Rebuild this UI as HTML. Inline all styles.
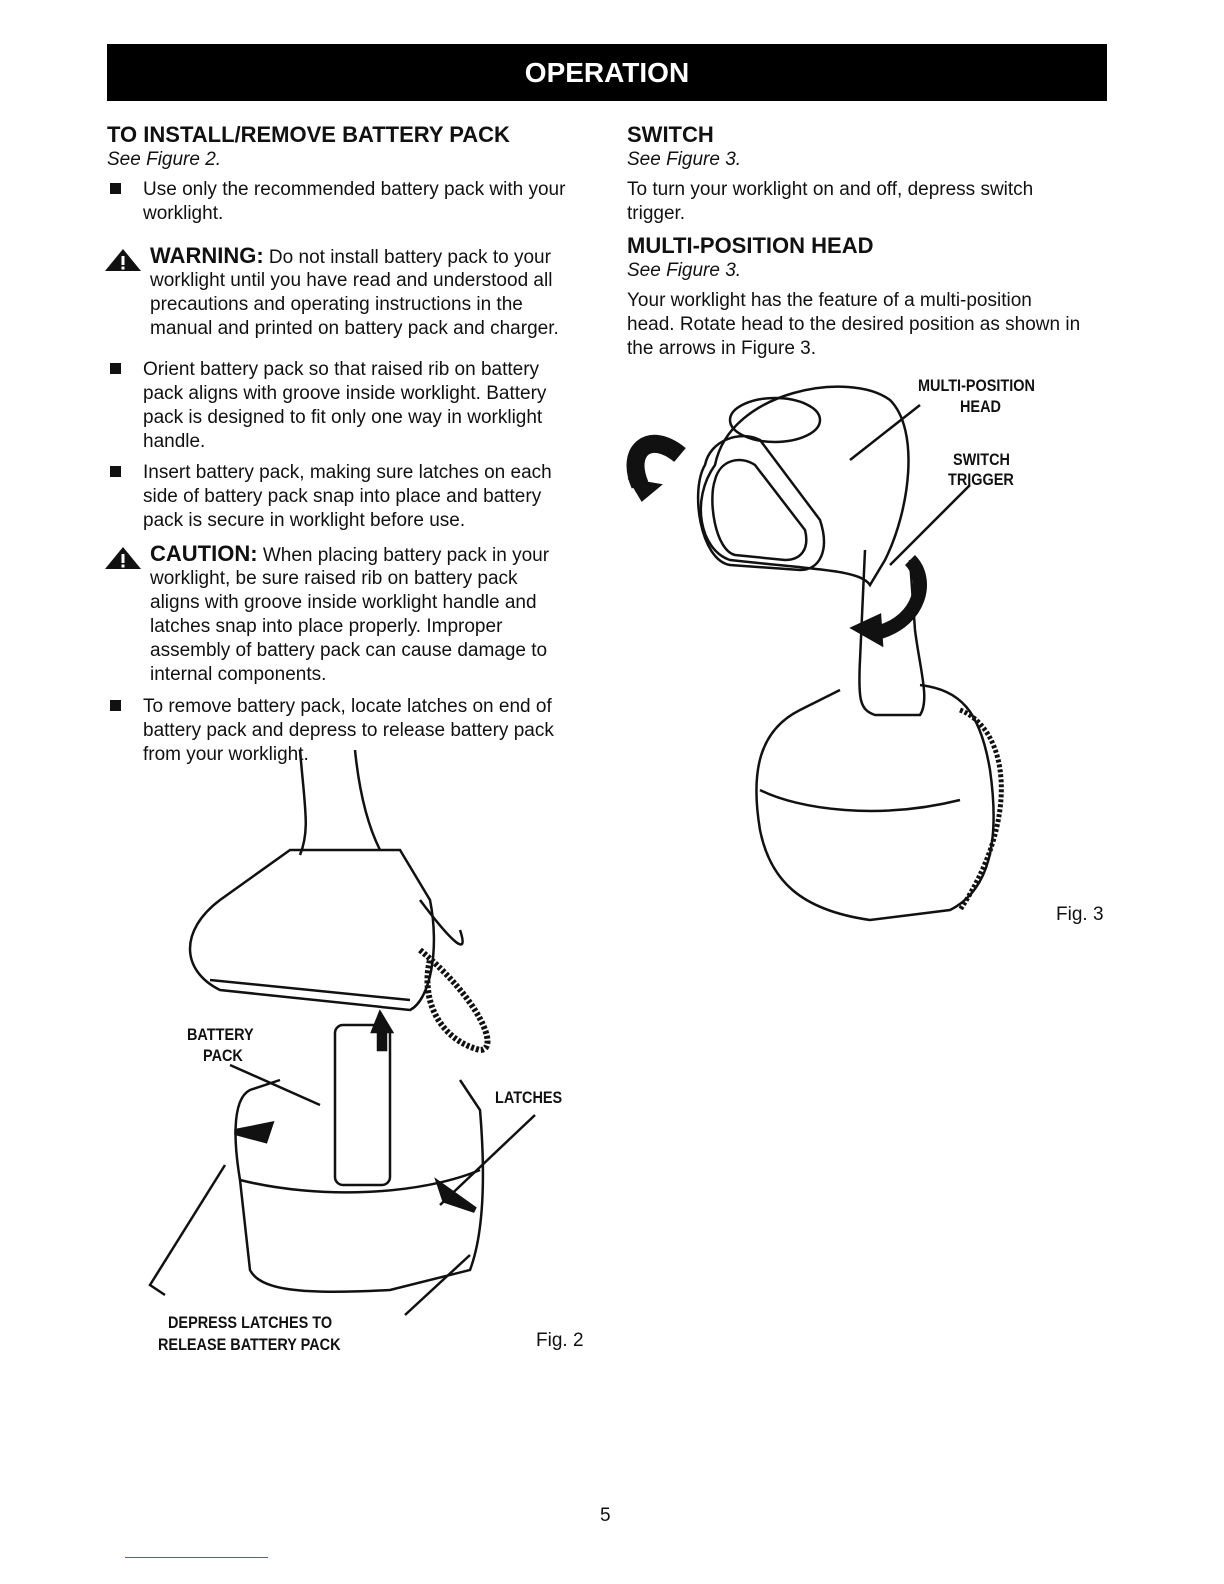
<!DOCTYPE html>
<html><head><meta charset="utf-8"><style>
body{margin:0;background:#fff;}
#p{position:relative;width:1224px;height:1584px;font-family:"Liberation Sans",sans-serif;color:#111;overflow:hidden}
.t{position:absolute;font-size:19px;white-space:nowrap;line-height:24px}
.h{position:absolute;font-size:22px;font-weight:bold;white-space:nowrap}
.i{font-style:italic}
.b{position:absolute;width:11px;height:11px;background:#111}
.l{position:absolute;font-size:17px;font-weight:bold;white-space:nowrap;transform:scaleX(.85);transform-origin:left}
</style></head><body><div id="p">
<div style="position:absolute;left:107px;top:44px;width:1000px;height:57px;background:#000;color:#fff;font-weight:bold;font-size:28px;text-align:center;line-height:57px">OPERATION</div>

<div class="h" style="left:107px;top:122px">TO INSTALL/REMOVE BATTERY PACK</div>
<div class="t i" style="left:107px;top:148px">See Figure 2.</div>
<div class="b" style="left:110px;top:183px"></div>
<div class="t" style="left:143px;top:178px">Use only the recommended battery pack with your<br>worklight.</div>
<svg style="position:absolute;left:103px;top:247px" width="42" height="26"><polygon points="20,2 38,24 2,24" fill="#111"/><rect x="18.5" y="9" width="3" height="9" fill="#fff"/><rect x="18.5" y="19.5" width="3" height="3" fill="#fff"/></svg>
<div class="t" style="left:150px;top:244px"><b style="font-size:22px">WARNING:</b> Do not install battery pack to your</div>
<div class="t" style="left:150px;top:269px">worklight until you have read and understood all<br>precautions and operating instructions in the<br>manual and printed on battery pack and charger.</div>
<div class="b" style="left:110px;top:363px"></div>
<div class="t" style="left:143px;top:358px">Orient battery pack so that raised rib on battery<br>pack aligns with groove inside worklight. Battery<br>pack is designed to fit only one way in worklight<br>handle.</div>
<div class="b" style="left:110px;top:466px"></div>
<div class="t" style="left:143px;top:461px">Insert battery pack, making sure latches on each<br>side of battery pack snap into place and battery<br>pack is secure in worklight before use.</div>
<svg style="position:absolute;left:103px;top:545px" width="42" height="26"><polygon points="20,2 38,24 2,24" fill="#111"/><rect x="18.5" y="9" width="3" height="9" fill="#fff"/><rect x="18.5" y="19.5" width="3" height="3" fill="#fff"/></svg>
<div class="t" style="left:150px;top:542px"><b style="font-size:22px">CAUTION:</b> When placing battery pack in your</div>
<div class="t" style="left:150px;top:567px">worklight, be sure raised rib on battery pack<br>aligns with groove inside worklight handle and<br>latches snap into place properly. Improper<br>assembly of battery pack can cause damage to<br>internal components.</div>
<div class="b" style="left:110px;top:700px"></div>
<div class="t" style="left:143px;top:695px">To remove battery pack, locate latches on end of<br>battery pack and depress to release battery pack<br>from your worklight.</div>

<div class="h" style="left:627px;top:122px">SWITCH</div>
<div class="t i" style="left:627px;top:148px">See Figure 3.</div>
<div class="t" style="left:627px;top:178px">To turn your worklight on and off, depress switch<br>trigger.</div>
<div class="h" style="left:627px;top:233px">MULTI-POSITION HEAD</div>
<div class="t i" style="left:627px;top:259px">See Figure 3.</div>
<div class="t" style="left:627px;top:289px">Your worklight has the feature of a multi-position<br>head. Rotate head to the desired position as shown in<br>the arrows in Figure 3.</div>

<svg style="position:absolute;left:620px;top:370px" width="420" height="560" fill="none" stroke="#111" stroke-width="2.5">
<path d="M95,95 C110,20 230,0 270,30 C300,60 290,140 265,190 L250,215 C240,200 200,200 110,190 C80,180 70,130 95,95Z"/>
<path d="M85,95 C90,70 120,60 140,70 L200,150 C210,180 200,200 180,200 L110,195 C80,190 70,120 85,95Z"/>
<path d="M95,110 C100,90 120,85 135,95 L185,160 C190,180 180,190 165,190 L115,185 C95,180 88,130 95,110Z"/>
<ellipse cx="155" cy="50" rx="45" ry="22"/>
<path d="M245,180 L240,290 C238,330 240,340 255,345 L300,345 C310,330 300,300 295,260 L290,190"/>
<path d="M220,320 L180,340 C140,360 130,400 140,460 C150,510 180,540 250,550 L330,540 C370,520 380,470 370,400 C360,340 340,320 300,315"/>
<path d="M140,420 C180,440 260,450 340,430"/>
<path d="M340,340 C390,360 400,450 340,540" stroke-width="5" stroke-dasharray="3 2"/>
<path d="M60,85 C30,60 5,80 20,115" stroke-width="18"/>
<polygon points="10,110 40,115 22,130" fill="#111"/>
<path d="M290,190 C310,210 300,250 260,262" stroke-width="14"/>
<polygon points="232,258 260,245 262,275" fill="#111"/>
<path d="M300,35 L230,90"/>
<path d="M350,115 L270,195"/>
</svg>
<div class="l" style="left:918px;top:376px">MULTI-POSITION</div>
<div class="l" style="left:960px;top:397px">HEAD</div>
<div class="l" style="left:953px;top:450px">SWITCH</div>
<div class="l" style="left:948px;top:470px">TRIGGER</div>
<div class="t" style="left:1056px;top:903px">Fig. 3</div>

<svg style="position:absolute;left:140px;top:750px" width="400" height="580" fill="none" stroke="#111" stroke-width="2.5">
<path d="M160,0 C165,60 170,80 160,105"/><path d="M215,0 C220,50 230,80 240,100"/>
<path d="M150,100 L80,150 C40,180 40,220 80,240 L270,260 C290,250 300,200 290,150 L260,100 Z"/>
<path d="M70,230 L270,250"/>
<path d="M280,150 C310,190 330,210 320,180" />
<path d="M280,200 C340,250 360,300 340,300 C300,290 280,250 290,210" stroke-width="6" stroke-dasharray="3 2"/>
<rect x="195" y="275" width="55" height="160" rx="8"/>
<path d="M140,330 L110,340 C90,350 95,400 100,430 L110,520 C120,540 160,545 250,540 L330,520 C345,480 345,420 340,360 L320,330"/>
<path d="M100,430 C180,450 280,445 340,420"/>
<polygon points="240,262 232,282 238,282 238,300 246,300 246,282 252,282" fill="#111"/>
<polygon points="95,382 130,375 125,390" fill="#111" stroke-width="6"/>
<polygon points="300,435 335,460 305,450" fill="#111" stroke-width="6"/>
<path d="M90,315 L180,355"/><path d="M85,415 L10,535 L25,545"/>
<path d="M395,365 L300,455"/><path d="M330,505 L265,565"/>
</svg>
<div class="l" style="left:187px;top:1025px">BATTERY</div>
<div class="l" style="left:203px;top:1046px">PACK</div>
<div class="l" style="left:495px;top:1088px">LATCHES</div>
<div class="l" style="left:168px;top:1313px">DEPRESS LATCHES TO</div>
<div class="l" style="left:158px;top:1335px">RELEASE BATTERY PACK</div>
<div class="t" style="left:536px;top:1329px">Fig. 2</div>

<div class="t" style="left:600px;top:1504px">5</div>
<div style="position:absolute;left:125px;top:1557px;width:143px;height:1px;background:#55c"></div>
</div></body></html>
